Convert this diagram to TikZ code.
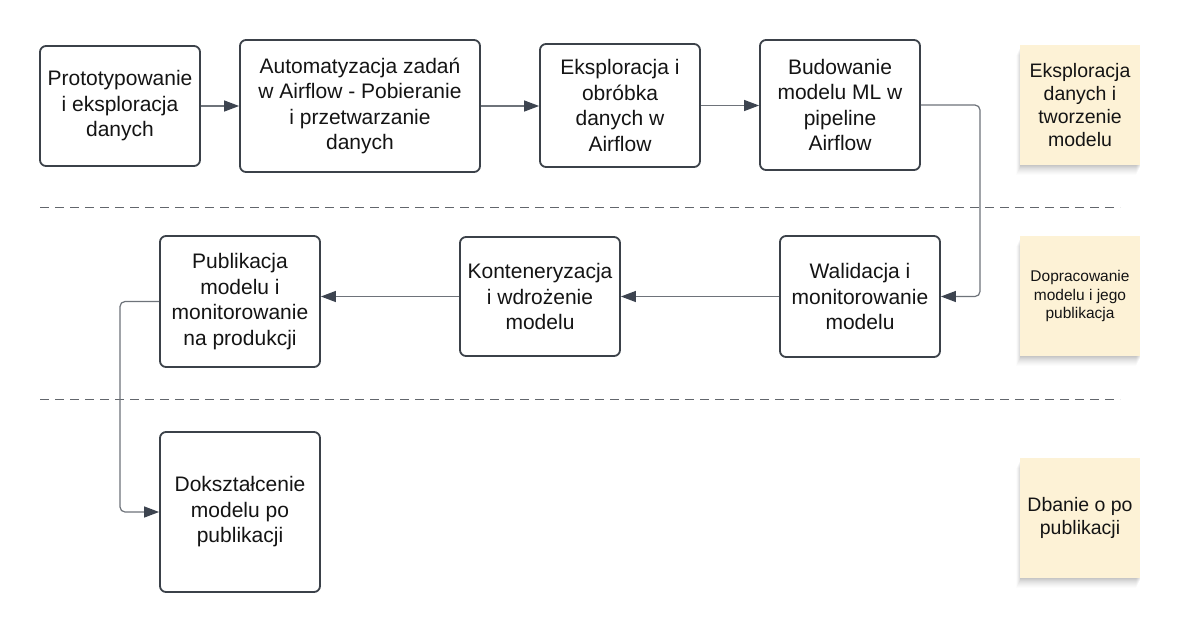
\documentclass[tikz,border=0pt]{standalone}
\usepackage{fontspec}
\setmainfont{Liberation Sans}
\usetikzlibrary{arrows.meta,shadows}
\definecolor{boxc}{HTML}{3B4149}
\definecolor{linec}{HTML}{6E737A}
\definecolor{tipc}{HTML}{3D4450}
\definecolor{stickyc}{HTML}{FDF2D6}
\definecolor{dashc}{HTML}{62666C}
\definecolor{txtc}{HTML}{141414}
\begin{document}
\begin{tikzpicture}[x=1pt,y=-1pt,
  stepbox/.style={draw=boxc, line width=1.8pt, rounded corners=6pt, fill=white,
    align=center, inner sep=0pt, text=txtc, font=\fontsize{21}{25.5}\selectfont},
  conn/.style={draw=linec, line width=1.2pt, rounded corners=5pt,
    -{Triangle[length=15pt,width=11pt,color=tipc]}},
  sepline/.style={draw=dashc, line width=1pt, dash pattern=on 9pt off 6pt},
  sticky/.style={fill=stickyc, minimum width=120pt, minimum height=120pt,
    align=center, inner sep=0pt, text=txtc,
    general shadow={fill=black, opacity=0.03, shadow yshift=-1pt},
    general shadow={fill=black, opacity=0.03, shadow yshift=-2pt},
    general shadow={fill=black, opacity=0.03, shadow yshift=-3pt},
    general shadow={fill=black, opacity=0.025, shadow yshift=-4pt, shadow xshift=-1pt},
    general shadow={fill=black, opacity=0.025, shadow yshift=-5pt, shadow xshift=-1pt},
    general shadow={fill=black, opacity=0.02, shadow yshift=-6pt, shadow xshift=-2pt},
    general shadow={fill=black, opacity=0.02, shadow yshift=-7pt, shadow xshift=-2pt},
    general shadow={fill=black, opacity=0.015, shadow yshift=-8pt, shadow xshift=-3pt},
    general shadow={fill=black, opacity=0.015, shadow yshift=-9pt, shadow xshift=-3pt},
    general shadow={fill=black, opacity=0.01, shadow yshift=-10pt, shadow xshift=-4pt}},
  bigsticky/.style={sticky, font=\fontsize{19.5}{23}\selectfont},
  smallsticky/.style={sticky, font=\fontsize{15.5}{18.5}\selectfont}]

\fill[white] (0,0) rectangle (1192,632);
\useasboundingbox (0,0) rectangle (1192,632);

% separators
\coordinate (d1a) at (40,207);
\coordinate (d1b) at (1120,207);
\coordinate (d2a) at (40,399);
\coordinate (d2b) at (1120,399);
\draw[sepline] (d1a) -- (d1b);
\draw[sepline] (d2a) -- (d2b);

% row 1
\node[stepbox, minimum width=160pt, minimum height=120pt] (b1) at (120,106)
  {Prototypowanie\\i eksploracja\\danych};
\node[stepbox, minimum width=240pt, minimum height=132pt] (b2) at (360,106)
  {Automatyzacja zadań\\w Airflow - Pobieranie\\i przetwarzanie\\danych};
\node[stepbox, minimum width=160pt, minimum height=123pt] (b3) at (620,105.5)
  {Eksploracja i\\obróbka\\danych w\\Airflow};
\node[stepbox, minimum width=160pt, minimum height=130pt] (b4) at (840,105)
  {Budowanie\\modelu ML w\\pipeline\\Airflow};

% row 2
\node[stepbox, minimum width=160pt, minimum height=131pt] (b5) at (240,301.5)
  {Publikacja\\modelu i\\monitorowanie\\na produkcji};
\node[stepbox, minimum width=160pt, minimum height=119pt] (b6) at (540,296.5)
  {Konteneryzacja\\i wdrożenie\\modelu};
\node[stepbox, minimum width=160pt, minimum height=121pt] (b7) at (860,296.5)
  {Walidacja i\\monitorowanie\\modelu};

% row 3
\node[stepbox, minimum width=160pt, minimum height=160pt] (b8) at (240,512)
  {Dokształcenie\\modelu po\\publikacji};

% sticky notes
\node[bigsticky] (s1) at (1080,105) {Eksploracja\\danych i\\tworzenie\\modelu};
\node[smallsticky] (s2) at (1080,296) {Dopracowanie\\modelu i jego\\publikacja};
\node[bigsticky] (s3) at (1080,517.5) {Dbanie o po\\publikacji};

% connectors
\coordinate (r1) at (980,0);
\coordinate (l1) at (120,0);
\draw[conn] (b1.east) -- (b1.east -| b2.west);
\draw[conn] (b2.east) -- (b2.east -| b3.west);
\draw[conn] (b3.east) -- (b3.east -| b4.west);
\draw[conn] (b4.east) -| (r1 |- b7.east) -- (b7.east);
\draw[conn] (b7.west) -- (b7.west -| b6.east);
\draw[conn] (b6.west) -- (b6.west -| b5.east);
\draw[conn] (b5.west) -| (l1 |- b8.west) -- (b8.west);
\end{tikzpicture}
\end{document}
